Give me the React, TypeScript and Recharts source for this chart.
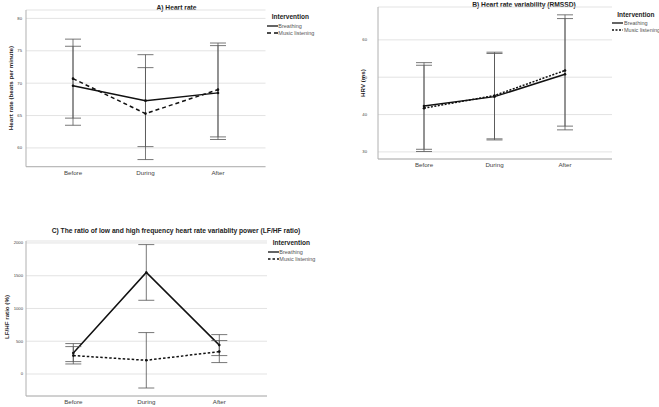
import React from "react"
import { LineChart, Line, XAxis, YAxis, CartesianGrid, ErrorBar } from "recharts"

const categories = ["Before", "During", "After"]

// A) heart rate
const hrBreathing = [69.6, 67.3, 68.5]
const hrBreathingLow = [63.5, 60.2, 61.3]
const hrBreathingHigh = [75.7, 74.4, 75.8]
const hrMusic = [70.7, 65.3, 69.0]
const hrMusicLow = [64.6, 58.2, 61.7]
const hrMusicHigh = [76.8, 72.4, 76.2]
const hrTicks = [60, 65, 70, 75, 80]

// B) HRV (RMSSD)
const hrvBreathing = [42.3, 44.8, 50.8]
const hrvBreathingLow = [30.7, 33.2, 35.9]
const hrvBreathingHigh = [53.9, 56.35, 65.7]
const hrvMusic = [41.7, 45.1, 51.8]
const hrvMusicLow = [30.1, 33.5, 36.9]
const hrvMusicHigh = [53.2, 56.7, 66.7]
const hrvTicks = [30, 40, 50, 60]

// C) LF/HF ratio
const lfhfBreathing = [320, 1550, 441]
const lfhfBreathingLow = [189, 1125, 281]
const lfhfBreathingHigh = [464, 1975, 601]
const lfhfMusic = [281, 209, 342]
const lfhfMusicLow = [153, -214, 174]
const lfhfMusicHigh = [418, 632, 510]
const lfhfTicks = [0, 500, 1000, 1500, 2000]

const font = "'Liberation Sans', Arial, sans-serif"

function buildRows(b: number[], bLo: number[], bHi: number[], m: number[], mLo: number[], mHi: number[]) {
  return categories.map((name, i) => ({
    name,
    breathing: b[i],
    breathingErr: [b[i] - bLo[i], bHi[i] - b[i]],
    music: m[i],
    musicErr: [m[i] - mLo[i], mHi[i] - m[i]],
  }))
}

type Plot = { left: number; right: number; top: number; bottom: number }

function Panel(props: {
  plot: Plot
  xs: [number, number]
  domain: [number, number]
  ticks: number[]
  rows: any[]
  dash: string
  tickGap: number
}) {
  const { plot, xs, domain, ticks, rows, dash, tickGap } = props
  const axisW = 20
  const axisH = 16
  const svgLeft = plot.left - axisW
  const svgTop = plot.top - 2
  const w = plot.right - svgLeft + 2
  const h = plot.bottom - svgTop + axisH
  return (
    <div style={{ position: "absolute", left: svgLeft, top: svgTop }}>
      <LineChart width={w} height={h} data={rows} margin={{ top: 2, right: 2, left: 0, bottom: 0 }}>
        <CartesianGrid vertical={false} stroke="#dcdcdc" strokeWidth={0.8} />
        <XAxis
          dataKey="name"
          height={axisH}
          padding={{ left: xs[0] - plot.left, right: plot.right - xs[1] }}
          tickLine={false}
          tickSize={0}
          tickMargin={4}
          axisLine={{ stroke: "#b0b0b0" }}
          tick={{ fontSize: 6.2, fill: "#444", fontFamily: font }}
        />
        <YAxis
          width={axisW}
          domain={domain}
          ticks={ticks}
          allowDataOverflow
          tickLine={false}
          tickSize={0}
          tickMargin={tickGap}
          axisLine={{ stroke: "#b0b0b0" }}
          tick={{ fontSize: 4.2, fill: "#444", fontFamily: font }}
        />
        <Line
          dataKey="breathing"
          stroke="#111"
          strokeWidth={1.5}
          dot={{ r: 1.3, fill: "#111", stroke: "none" }}
          isAnimationActive={false}
        >
          <ErrorBar dataKey="breathingErr" width={8} stroke="#555" strokeWidth={0.8} />
        </Line>
        <Line
          dataKey="music"
          stroke="#111"
          strokeWidth={1.5}
          strokeDasharray={dash}
          dot={{ r: 1.3, fill: "#111", stroke: "none", strokeDasharray: "0" }}
          isAnimationActive={false}
        >
          <ErrorBar dataKey="musicErr" width={8} stroke="#555" strokeWidth={0.8} />
        </Line>
      </LineChart>
    </div>
  )
}

function Title(props: { text: string; cx: number; cy: number }) {
  return (
    <div
      style={{
        position: "absolute",
        left: props.cx,
        top: props.cy,
        transform: "translate(-50%, -50%)",
        fontSize: 6.7,
        fontWeight: "bold",
        whiteSpace: "nowrap",
        color: "#222",
      }}
    >
      {props.text}
    </div>
  )
}

function YLabel(props: { text: string; cx: number; cy: number }) {
  return (
    <div
      style={{
        position: "absolute",
        left: props.cx,
        top: props.cy,
        transform: "translate(-50%, -50%) rotate(-90deg)",
        fontSize: 6.2,
        fontWeight: "bold",
        whiteSpace: "nowrap",
        color: "#222",
      }}
    >
      {props.text}
    </div>
  )
}

function LegendBox(props: { x: number; y: number; lineX: number; rowY: [number, number]; textX: number; dash: string }) {
  const { x, y, lineX, rowY, textX, dash } = props
  const rows = [
    { label: "Breathing", dash: undefined as string | undefined, y: rowY[0] },
    { label: "Music listening", dash, y: rowY[1] },
  ]
  return (
    <>
      <div
        style={{
          position: "absolute",
          left: x,
          top: y,
          transform: "translateY(-50%)",
          fontSize: 6.5,
          fontWeight: "bold",
          color: "#222",
          whiteSpace: "nowrap",
        }}
      >
        Intervention
      </div>
      {rows.map((r) => (
        <React.Fragment key={r.label}>
          <svg style={{ position: "absolute", left: lineX, top: r.y - 2 }} width={11} height={4}>
            <line x1={0} y1={2} x2={11} y2={2} stroke="#111" strokeWidth={1.3} strokeDasharray={r.dash} />
          </svg>
          <div
            style={{
              position: "absolute",
              left: textX,
              top: r.y,
              transform: "translateY(-50%)",
              fontSize: 5.5,
              color: "#555",
              whiteSpace: "nowrap",
            }}
          >
            {r.label}
          </div>
        </React.Fragment>
      ))}
    </>
  )
}

export default function App() {
  const hrRows = buildRows(hrBreathing, hrBreathingLow, hrBreathingHigh, hrMusic, hrMusicLow, hrMusicHigh)
  const hrvRows = buildRows(hrvBreathing, hrvBreathingLow, hrvBreathingHigh, hrvMusic, hrvMusicLow, hrvMusicHigh)
  const lfhfRows = buildRows(lfhfBreathing, lfhfBreathingLow, lfhfBreathingHigh, lfhfMusic, lfhfMusicLow, lfhfMusicHigh)

  return (
    <div
      style={{
        position: "absolute",
        left: 0,
        top: 0,
        width: 659,
        height: 407,
        background: "#fff",
        fontFamily: font,
        overflow: "hidden",
      }}
    >
      {/* A) Heart rate */}
      <Title text="A) Heart rate" cx={176.5} cy={6.7} />
      <YLabel text="Heart rate (beats per minute)" cx={10} cy={88} />
      <Panel
        plot={{ left: 26, right: 265.5, top: 10, bottom: 166.7 }}
        xs={[73, 218]}
        domain={[57.1, 81.3]}
        ticks={hrTicks}
        rows={hrRows}
        dash="4 3"
        tickGap={4}
      />
      <LegendBox x={271.7} y={16.3} lineX={266.7} rowY={[25.7, 33.3]} textX={278.3} dash="4 3" />

      {/* B) Heart rate variability */}
      <Title text="B) Heart rate variability (RMSSD)" cx={524} cy={3.5} />
      <YLabel text="HRV (ms)" cx={362} cy={83} />
      <Panel
        plot={{ left: 378, right: 612, top: 7.3, bottom: 159.3 }}
        xs={[424, 565]}
        domain={[28.1, 68.8]}
        ticks={hrvTicks}
        rows={hrvRows}
        dash="2 1.5"
        tickGap={11}
      />
      <LegendBox x={617.3} y={13.7} lineX={612.3} rowY={[23.3, 30]} textX={624} dash="2 1.5" />

      {/* C) LF/HF ratio */}
      <Title text="C) The ratio of low and high frequency heart rate variablity power (LF/HF ratio)" cx={176} cy={230} />
      <YLabel text="LF/HF ratio (%)" cx={5.5} cy={316.7} />
      <Panel
        plot={{ left: 25.7, right: 266.7, top: 241, bottom: 396 }}
        xs={[73, 219]}
        domain={[-336, 2030]}
        ticks={lfhfTicks}
        rows={lfhfRows}
        dash="2.5 2"
        tickGap={3}
      />
      <LegendBox x={272.7} y={241.7} lineX={267.7} rowY={[251.7, 259]} textX={279.3} dash="2.5 2" />
    </div>
  )
}
